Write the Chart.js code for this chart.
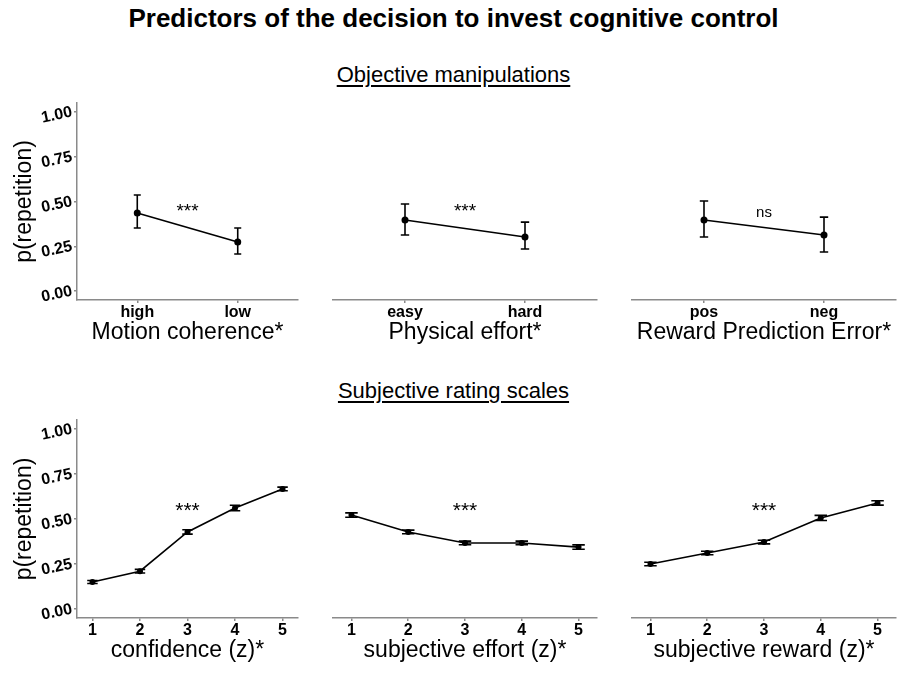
<!DOCTYPE html>
<html>
<head>
<meta charset="utf-8">
<script src="https://cdn.jsdelivr.net/npm/chart.js@4.4.0/dist/chart.umd.min.js"></script>
<style>
  body { margin: 0; background: #fff; font-family: "Liberation Sans", Arial, sans-serif; }
  #page { position: relative; width: 907px; height: 680px; overflow: hidden; }
  .title { position: absolute; left: 0; width: 907px; top: 3px; text-align: center; font-size: 26px; font-weight: bold; line-height: 30px; }
  .section { position: absolute; left: 0; width: 907px; text-align: center; font-size: 22px; line-height: 26px; text-decoration: underline; text-underline-offset: 3px; }
  .panel { position: absolute; }
</style>
</head>
<body>
<div id="page">
  <div class="title">Predictors of the decision to invest cognitive control</div>
  <div class="section" style="top:62px">Objective manipulations</div>
  <div class="section" style="top:378px">Subjective rating scales</div>

  <div class="panel" style="left:0px;top:95px;width:305px;height:255px"><canvas id="coherence"></canvas></div>
  <div class="panel" style="left:310px;top:95px;width:295px;height:255px"><canvas id="physical"></canvas></div>
  <div class="panel" style="left:610px;top:95px;width:297px;height:255px"><canvas id="rpe"></canvas></div>

  <div class="panel" style="left:0px;top:412px;width:305px;height:256px"><canvas id="confidence"></canvas></div>
  <div class="panel" style="left:310px;top:412px;width:295px;height:256px"><canvas id="effort"></canvas></div>
  <div class="panel" style="left:610px;top:412px;width:297px;height:256px"><canvas id="reward"></canvas></div>
</div>

<script>
// ---------- Data ----------

const yTicks = [0, 0.25, 0.5, 0.75, 1];
const ratingTicks = [1, 2, 3, 4, 5];

// objective manipulations
const coherenceLabels = ['high', 'low'];
const coherenceMean = [0.436, 0.274];
const coherenceLower = [0.352, 0.207];
const coherenceUpper = [0.536, 0.352];

const physicalLabels = ['easy', 'hard'];
const physicalMean = [0.397, 0.302];
const physicalLower = [0.313, 0.235];
const physicalUpper = [0.486, 0.385];

const rpeLabels = ['pos', 'neg'];
const rpeMean = [0.397, 0.313];
const rpeLower = [0.302, 0.218];
const rpeUpper = [0.503, 0.413];

// subjective rating scales
const confidenceMean = [0.150, 0.210, 0.428, 0.561, 0.667];
const confidenceLower = [0.142, 0.200, 0.416, 0.546, 0.657];
const confidenceUpper = [0.158, 0.220, 0.440, 0.576, 0.677];

const effortMean = [0.522, 0.428, 0.367, 0.367, 0.344];
const effortLower = [0.510, 0.418, 0.357, 0.357, 0.332];
const effortUpper = [0.534, 0.438, 0.377, 0.377, 0.356];

const rewardMean = [0.250, 0.311, 0.372, 0.506, 0.589];
const rewardLower = [0.240, 0.301, 0.362, 0.492, 0.577];
const rewardUpper = [0.260, 0.321, 0.382, 0.520, 0.601];

// significance labels: [text, x, y]
const coherenceNote = ['***', 0.5, 0.464];
const physicalNote = ['***', 0.5, 0.464];
const rpeNote = ['ns', 0.5, 0.436];
const confidenceNote = ['***', 3, 0.567];
const effortNote = ['***', 3, 0.567];
const rewardNote = ['***', 3, 0.567];

// ---------- Plugins ----------

const AXIS_GREY = '#8a8a8a';
const FONT = '"Liberation Sans", Arial, sans-serif';

const errorBarPlugin = {
    id: 'errorBars',
    afterDatasetsDraw(chart, args, opts) {
        const { ctx, scales: { x, y } } = chart;
        ctx.save();
        ctx.strokeStyle = '#000';
        ctx.lineWidth = 1.6;
        opts.xs.forEach((xv, i) => {
            const px = x.getPixelForValue(xv);
            const half = Math.abs(x.getPixelForValue(xv + opts.cap / 2) - px);
            const top = y.getPixelForValue(opts.upper[i]);
            const bottom = y.getPixelForValue(opts.lower[i]);
            ctx.beginPath();
            ctx.moveTo(px, top);
            ctx.lineTo(px, bottom);
            ctx.moveTo(px - half, top);
            ctx.lineTo(px + half, top);
            ctx.moveTo(px - half, bottom);
            ctx.lineTo(px + half, bottom);
            ctx.stroke();
        });
        ctx.restore();
    }
};

const notePlugin = {
    id: 'note',
    afterDraw(chart, args, opts) {
        const { ctx, scales: { x, y } } = chart;
        const [text, xv, yv] = opts.note;
        ctx.save();
        ctx.fillStyle = '#000';
        ctx.textAlign = 'center';
        ctx.textBaseline = 'middle';
        if (text === 'ns') {
            ctx.font = '15px ' + FONT;
            ctx.fillText(text, x.getPixelForValue(xv), y.getPixelForValue(yv));
        } else {
            ctx.font = opts.starSize + 'px ' + FONT;
            ctx.fillText(text, x.getPixelForValue(xv), y.getPixelForValue(yv) + opts.starSize * 0.22);
        }
        ctx.restore();
    }
};

// ---------- Panels ----------

function makePanel(canvasId, p) {
    const xs = p.xValues;
    const points = p.mean.map((v, i) => ({ x: xs[i], y: v }));
    const ctx = document.getElementById(canvasId).getContext('2d');

    return new Chart(ctx, {
        type: 'scatter',
        data: {
            datasets: [{
                data: points,
                showLine: true,
                borderColor: '#000',
                borderWidth: 1.6,
                pointRadius: p.pointRadius,
                pointBackgroundColor: '#000',
                pointBorderWidth: 0
            }]
        },
        plugins: [errorBarPlugin, notePlugin],
        options: {
            responsive: true,
            maintainAspectRatio: false,
            animation: false,
            layout: { padding: p.padding },
            plugins: {
                legend: { display: false },
                tooltip: { enabled: false },
                errorBars: { xs, lower: p.lower, upper: p.upper, cap: p.cap },
                note: { note: p.note, starSize: p.starSize }
            },
            scales: {
                x: {
                    type: 'linear',
                    min: p.xMin,
                    max: p.xMax,
                    afterBuildTicks: s => { s.ticks = p.xValues.map(v => ({ value: v })); },
                    afterFit: s => {
                        s.height = 50;
                        s.paddingLeft = 0;
                        s.paddingRight = 0;
                    },
                    ticks: {
                        autoSkip: false,
                        maxRotation: 0,
                        padding: 0,
                        color: '#000',
                        font: { family: FONT, size: 16, weight: 'bold' },
                        callback: v => p.xLabels[p.xValues.indexOf(v)]
                    },
                    grid: { drawOnChartArea: false, drawTicks: true, tickLength: 3, color: AXIS_GREY, lineWidth: 1.5 },
                    border: { display: true, color: AXIS_GREY, width: 1.5 },
                    title: {
                        display: true,
                        text: p.xTitle,
                        color: '#000',
                        font: { family: FONT, size: 23 },
                        padding: { top: 0, bottom: 4 }
                    }
                },
                y: {
                    display: p.showY,
                    min: -0.05,
                    max: 1.05,
                    afterBuildTicks: s => { s.ticks = yTicks.map(v => ({ value: v })); },
                    afterFit: s => {
                        s.width = p.showY ? 77 : 0;
                        s.paddingTop = 0;
                        s.paddingBottom = 0;
                    },
                    ticks: {
                        padding: 2,
                        minRotation: 12,
                        maxRotation: 12,
                        color: '#000',
                        font: { family: FONT, size: 16, weight: 'bold' },
                        callback: v => v.toFixed(2)
                    },
                    grid: { drawOnChartArea: false, drawTicks: true, tickLength: 3, color: AXIS_GREY, lineWidth: 1.5 },
                    border: { display: true, color: AXIS_GREY, width: 1.5 },
                    title: {
                        display: true,
                        text: 'p(repetition)',
                        color: '#000',
                        font: { family: FONT, size: 23 },
                        padding: { top: 11, bottom: 0 }
                    }
                }
            }
        }
    });
}

const twoLevel = { xValues: [0, 1], xMin: -0.6, xMax: 1.6, cap: 0.07, pointRadius: 3.5, starSize: 19 };
const fiveLevel = { xValues: ratingTicks, xLabels: ratingTicks.map(String), xMin: 0.675, xMax: 5.325, cap: 0.22, pointRadius: 3, starSize: 21 };

const padLeft = { left: 0, right: 7, top: 8, bottom: 0 };
const padMid = { left: 23, right: 8, top: 8, bottom: 0 };
const padRight = { left: 22, right: 11, top: 8, bottom: 0 };

makePanel('coherence', Object.assign({}, twoLevel, {
    xLabels: coherenceLabels, mean: coherenceMean, lower: coherenceLower, upper: coherenceUpper,
    xTitle: 'Motion coherence*', note: coherenceNote, showY: true, padding: padLeft
}));
makePanel('physical', Object.assign({}, twoLevel, {
    xLabels: physicalLabels, mean: physicalMean, lower: physicalLower, upper: physicalUpper,
    xTitle: 'Physical effort*', note: physicalNote, showY: false, padding: padMid
}));
makePanel('rpe', Object.assign({}, twoLevel, {
    xLabels: rpeLabels, mean: rpeMean, lower: rpeLower, upper: rpeUpper,
    xTitle: 'Reward Prediction Error*', note: rpeNote, showY: false, padding: padRight
}));

makePanel('confidence', Object.assign({}, fiveLevel, {
    mean: confidenceMean, lower: confidenceLower, upper: confidenceUpper,
    xTitle: 'confidence (z)*', note: confidenceNote, showY: true, padding: padLeft
}));
makePanel('effort', Object.assign({}, fiveLevel, {
    mean: effortMean, lower: effortLower, upper: effortUpper,
    xTitle: 'subjective effort (z)*', note: effortNote, showY: false, padding: padMid
}));
makePanel('reward', Object.assign({}, fiveLevel, {
    mean: rewardMean, lower: rewardLower, upper: rewardUpper,
    xTitle: 'subjective reward (z)*', note: rewardNote, showY: false, padding: padRight
}));
</script>
</body>
</html>
